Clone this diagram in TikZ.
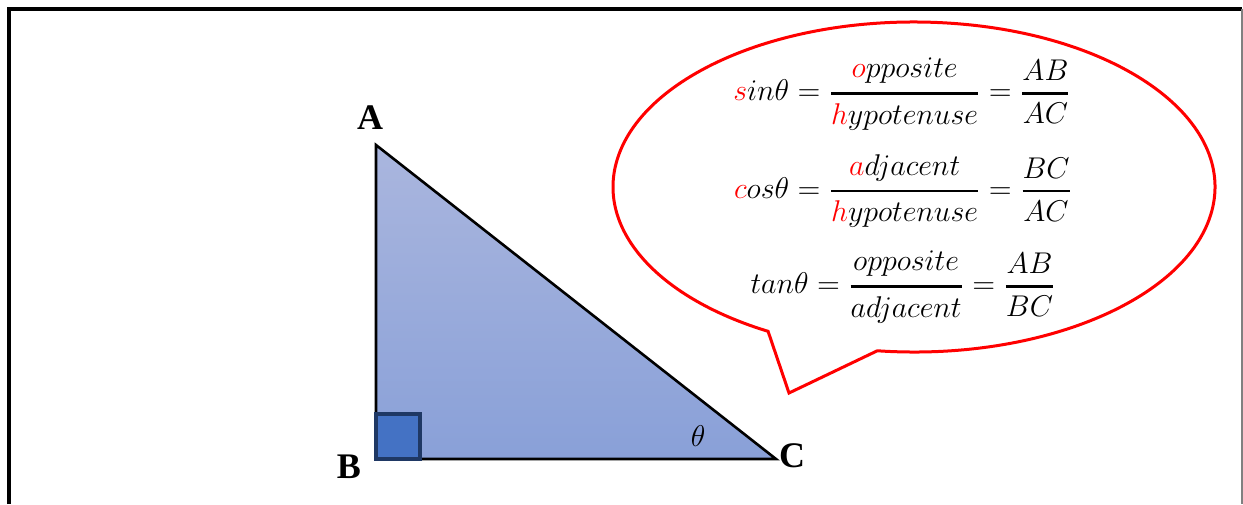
\documentclass[tikz,border=0pt]{standalone}
\usepackage{fix-cm}
\usepackage{amsmath}
\usepackage{fontspec}
\setmainfont{Liberation Serif}
\usepackage{tikz}
\usetikzlibrary{positioning,calc}

\definecolor{triTop}{RGB}{170,182,222}
\definecolor{triBottom}{RGB}{137,160,216}
\definecolor{boxFill}{RGB}{68,114,196}
\definecolor{boxLine}{RGB}{31,56,100}
\newcommand{\ratio}[2]{\genfrac{}{}{1.4pt}{0}{#1}{#2}}
\newcommand{\rd}[1]{\textcolor{red}{#1}}

\begin{document}
\begin{tikzpicture}[x=0.5pt, y=-0.5pt,
        vlabel/.style={inner sep=0pt, font=\fontsize{18}{20}\selectfont\bfseries},
        eqn/.style={inner sep=0pt, font=\fontsize{15}{18}\selectfont},
        bubble/.style={draw=red, line width=1.5pt, line join=miter}]
        \useasboundingbox (0,0) rectangle (1243,504);

        % frame
        \draw[line width=2pt] (8.5,504) -- (8.5,8.5) -- (1242,8.5);
        \draw[gray, line width=0.6pt] (1242,8.5) -- (1242,504);

        % triangle
        \coordinate (A) at (376,145);
        \coordinate (B) at (376,459);
        \coordinate (C) at (776,459);
        \draw[line width=1.3pt, line join=miter, top color=triTop, bottom color=triBottom] (A) -- (B) -- (C) -- cycle;
        \draw[draw=boxLine, fill=boxFill, line width=1.8pt] (B) rectangle (420,414);

        \node (labA) [vlabel] at (370,118) {A};
        \node (labB) [vlabel] at (349,467) {B};
        \node (labC) [vlabel] at (792,456) {C};
        \node (theta) [inner sep=0pt, font=\fontsize{15}{18}\selectfont] at (698,436) {$\theta$};

        % speech bubble
        \coordinate (ctr) at (914,187);
        \coordinate (tip) at (789,393);
        \draw[bubble] ($(ctr)+(97:301 and 165)$) arc[start angle=97, end angle=-241, x radius=301, y radius=165] -- (tip) -- cycle;

        \node (sinEq) [eqn] at (902,94) {$\rd{s}in\theta = \ratio{\rd{o}pposite}{\rd{h}ypotenuse} = \ratio{AB}{AC}$};
        \node (cosEq) [eqn] at (903,191) {$\rd{c}os\theta = \ratio{\rd{a}djacent}{\rd{h}ypotenuse} = \ratio{BC}{AC}$};
        \node (tanEq) [eqn] at (903,287) {$tan\theta = \ratio{opposite}{adjacent} = \ratio{AB}{BC}$};
    \end{tikzpicture}
\end{document}
